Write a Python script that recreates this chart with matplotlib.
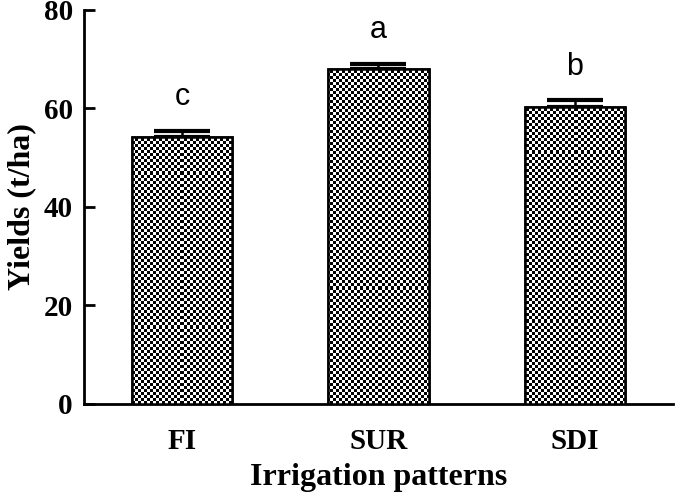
import numpy as np
import matplotlib
matplotlib.use('Agg')
import matplotlib.pyplot as plt

# data
patterns = ['FI', 'SUR', 'SDI']
yields = [54.2, 67.9, 60.3]
errors = [1.3, 1.1, 1.3]
letters = ['c', 'a', 'b']

fig = plt.figure(figsize=(6.75, 4.92), dpi=100)
ax = fig.add_axes([0.1244, 0.1789, 0.8726, 0.8011])

x = np.arange(len(patterns))

# error bars (upper only) behind the bars
ax.errorbar(x, yields, yerr=[np.zeros(len(errors)), errors], fmt='none',
            ecolor='black', elinewidth=1.8, capsize=20, capthick=3, zorder=1)

bars = ax.bar(x, yields, width=0.51, color='white', edgecolor='black',
              linewidth=1.8, zorder=2)

# checkerboard fill, clipped to each bar
nx, ny = 196, 131
checker = (np.add.outer(np.arange(ny), np.arange(nx)) % 2).astype(float)
for b in bars:
    im = ax.imshow(checker, cmap='gray', vmin=0, vmax=1, interpolation='nearest',
                   extent=[0, 1, 0, 1], transform=ax.transAxes, aspect='auto', zorder=3)
    im.set_clip_path(b)
ax.bar(x, yields, width=0.51, color='none', edgecolor='black', linewidth=1.8, zorder=4)

# significance letters
for xi, v, e, s in zip(x, yields, errors, letters):
    ax.text(xi, v + e + 5.2, s, ha='center', va='baseline',
            fontsize=22, family='Liberation Sans')

ax.set_xlim(-0.5, 2.5)
ax.set_ylim(0, 80)
ax.set_yticks([0, 20, 40, 60, 80])
ax.set_xticks(x)
ax.set_xticklabels(patterns)

for sp in ['top', 'right']:
    ax.spines[sp].set_visible(False)
for sp in ['left', 'bottom']:
    ax.spines[sp].set_linewidth(2)

ax.tick_params(axis='y', direction='in', length=8, width=2, pad=8)
ax.tick_params(axis='x', length=0, pad=17)
for lab in ax.get_xticklabels() + ax.get_yticklabels():
    lab.set_fontfamily('Liberation Serif')
    lab.set_fontweight('bold')
    lab.set_fontsize(21)

ax.set_ylabel('Yields (t/ha)', fontsize=23, fontweight='bold',
              family='Liberation Serif', labelpad=5)
ax.set_xlabel('Irrigation patterns', fontsize=23, fontweight='bold',
              family='Liberation Serif', labelpad=6)

plt.savefig('out.png', dpi=100)
